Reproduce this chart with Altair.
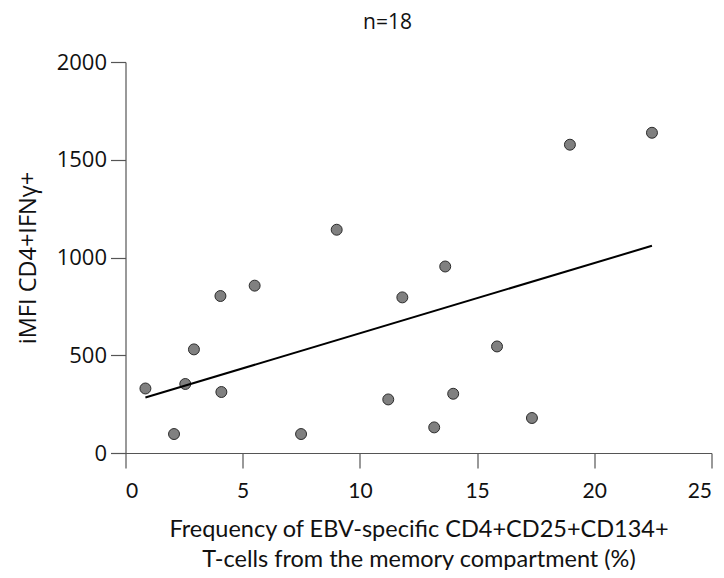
import altair as alt
import pandas as pd

freq = [0.85, 2.07, 2.55, 2.92, 4.05, 4.09, 5.51, 7.49, 9.01,
        11.21, 11.81, 13.17, 13.64, 13.98, 15.85, 17.34, 18.96, 22.46]
imfi = [330, 97, 353, 530, 803, 312, 856, 97, 1142,
        274, 796, 131, 954, 303, 545, 179, 1577, 1638]
x_ticks = [0, 5, 10, 15, 20, 25]
y_ticks = [0, 500, 1000, 1500, 2000]

df = pd.DataFrame({"freq": freq, "imfi": imfi})

x_enc = alt.X("freq:Q",
              scale=alt.Scale(domain=[0, 25], nice=False, zero=False),
              axis=alt.Axis(values=x_ticks, format="d",
                            title=["Frequency of EBV-specific CD4+CD25+CD134+",
                                   "T-cells from the memory compartment (%)"],
                            titleFont="Lato", titleFontSize=23.5,
                            titleFontWeight="normal", titleLineHeight=30,
                            titlePadding=16, titleColor="#111",
                            labelFont="Lato", labelFontSize=21,
                            labelPadding=12, labelColor="#111"))
y_enc = alt.Y("imfi:Q",
              scale=alt.Scale(domain=[0, 2000], nice=False),
              axis=alt.Axis(values=y_ticks, format="d", title="iMFI CD4+IFNγ+",
                            titleFont="Open Sans", titleFontSize=23.5,
                            titleFontWeight="normal", titlePadding=16,
                            titleColor="#111",
                            labelFont="Open Sans", labelFontSize=22,
                            labelPadding=4, labelColor="#111"))

points = alt.Chart(df).mark_circle(size=120, opacity=1, fill="#808080",
                                   stroke="#2b2b2b", strokeWidth=1).encode(
    x=x_enc, y=y_enc)

line = alt.Chart(df).transform_regression("freq", "imfi").mark_line(
    color="#000000", strokeWidth=2).encode(x=x_enc, y=y_enc)

chart = alt.layer(points, line).properties(
    width=586, height=391,
    title=alt.TitleParams(text="n=18", dx=-31),
    autosize=alt.AutoSizeParams(type="none"),
    padding={"left": 117.5, "top": 54, "right": 4, "bottom": 117},
).configure_view(stroke=None).configure_axis(
    grid=False, domainColor="#555", tickColor="#555", tickSize=15,
    domainWidth=1.2, tickWidth=1.2
).configure_title(
    font="Open Sans", fontSize=21, fontWeight="normal", color="#111",
    offset=18, anchor="middle"
)

chart.save("out.html", embed_options={"renderer": "svg", "actions": False})
